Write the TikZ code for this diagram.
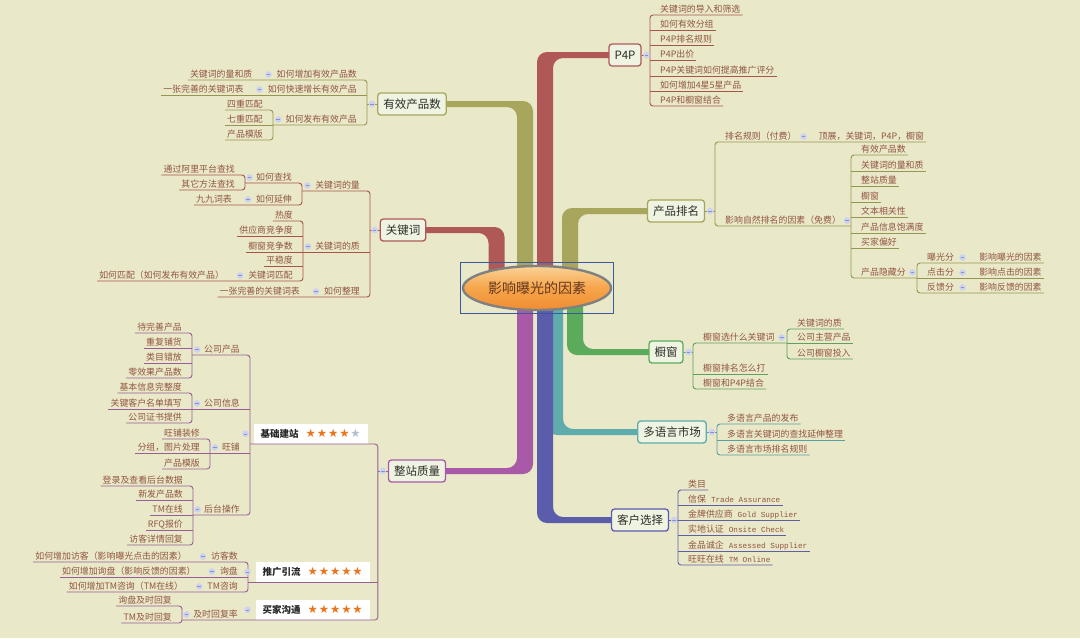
\documentclass[tikz,border=0pt]{standalone}
\usepackage{fontspec}
\setmainfont{Noto Sans CJK SC}
\newfontfamily\latmono{Liberation Mono}
\newfontfamily\starfont{DejaVu Sans}
\usepackage{tikz}
\usetikzlibrary{%
	calc,%
	positioning,%
	shapes.geometric,%
	fit,%
}
\definecolor{bgcol}{RGB}{233, 232, 200}
\definecolor{leaftext}{RGB}{145, 85, 65}
\definecolor{topicfill}{RGB}{238, 243, 226}
\definecolor{topictext}{RGB}{45, 45, 40}
\definecolor{credtr}{RGB}{176, 88, 88}
\definecolor{credln}{RGB}{165, 85, 75}
\definecolor{coltr}{RGB}{168, 166, 92}
\definecolor{colln}{RGB}{150, 150, 80}
\definecolor{cgrntr}{RGB}{92, 170, 92}
\definecolor{cgrnln}{RGB}{95, 160, 95}
\definecolor{ctealtr}{RGB}{95, 172, 172}
\definecolor{ctealln}{RGB}{90, 160, 160}
\definecolor{cblutr}{RGB}{92, 92, 172}
\definecolor{cbluln}{RGB}{95, 95, 165}
\definecolor{cmagtr}{RGB}{168, 90, 168}
\definecolor{cmagln}{RGB}{150, 95, 150}
\definecolor{cfoldfill}{RGB}{205, 210, 238}
\definecolor{cfoldline}{RGB}{135, 145, 205}
\definecolor{cstar}{RGB}{232, 118, 30}
\definecolor{cstargray}{RGB}{180, 190, 210}
\definecolor{cframe}{RGB}{58, 90, 160}
\definecolor{cctrtop}{RGB}{250, 210, 150}
\definecolor{cctrmid}{RGB}{246, 165, 75}
\definecolor{cctrbot}{RGB}{240, 140, 50}
\definecolor{cctrtext}{RGB}{100, 55, 30}
\newcommand{\leaffont}{\fontsize{8.9}{10}\selectfont}
\newcommand{\topicfont}{\fontsize{11.5}{13}\selectfont}
\newcommand{\monotxt}[1]{{\latmono\fontsize{7.7}{10}\selectfont #1}}
\newcommand{\stargap}{\kern0.9pt}
\newcommand{\starsfull}{{\starfont\fontsize{11.5}{12}\selectfont\color{cstar}★\stargap★\stargap★\stargap★\stargap★}}
\newcommand{\starsfour}{{\starfont\fontsize{11.5}{12}\selectfont\color{cstar}★\stargap★\stargap★\stargap★\stargap\color{cstargray}★}}
\pgfdeclarelayer{canvas}
\pgfdeclarelayer{trunks}
\pgfsetlayers{canvas,trunks,main}
\tikzset{
	topic/.style={%
			draw=#1,%
			line width=1.3pt,%
			rounded corners=3pt,%
			fill=topicfill,%
			text=topictext,%
			font=\topicfont,%
			inner xsep=5.5pt,%
			minimum height=22pt},%
	leafR/.style={%
			anchor=south west,%
			inner xsep=0pt,%
			inner ysep=1.2pt,%
			text depth=1.3pt,%
			font=\leaffont,%
			text=leaftext,%
			execute at begin node={\hspace*{10pt}},%
			execute at end node={\hspace*{2pt}}},%
	leafL/.style={%
			anchor=south east,%
			inner xsep=0pt,%
			inner ysep=1.2pt,%
			text depth=1.3pt,%
			font=\leaffont,%
			text=leaftext,%
			execute at begin node={\hspace*{2pt}},%
			execute at end node={\hspace*{10pt}}},%
	ln/.style={draw=#1, line width=0.9pt, rounded corners=3pt},%
	trunk/.style={fill=#1, rounded corners=10pt},%
	starbox/.style={%
			anchor=south east,%
			fill=white,%
			inner xsep=7pt,%
			inner ysep=0pt,%
			minimum height=20pt,%
			font=\fontsize{9.5}{11}\selectfont\bfseries,%
			text=black!85},%
	fold/.style={%
			circle,%
			fill=cfoldfill,%
			inner sep=0pt,%
			minimum size=6.6pt,%
			path picture={\draw[cfoldline, line width=0.6pt]
					([xshift=-1.8pt]path picture bounding box.center) --
					([xshift=1.8pt]path picture bounding box.center);}},%
}

\begin{document}
\begin{tikzpicture}[x=1pt, y=-1pt]
	\useasboundingbox (0,0) rectangle (1080,638);
	\begin{pgfonlayer}{canvas}
		\fill[bgcol] (0,0) rectangle (1080,638);
	\end{pgfonlayer}

	% centre
	\node[ellipse, draw=black!50, line width=2.4pt, top color=cctrtop, bottom color=cctrbot, middle color=cctrmid,
		minimum width=141pt, minimum height=44pt, font=\fontsize{14}{16}\selectfont, text=cctrtext] (ctr) at (537,288) {影响曝光的因素};
	\node[draw=cframe, line width=1.3pt, fit=(ctr), inner xsep=1pt, inner ysep=2.5pt] (ctrbox) {};

	% main topics
	\node[topic=credtr] (p4p) at (625,55) {P4P};
	\node[topic=coltr] (yxcp) at (412,104) {有效产品数};
	\node[topic=credtr] (gjc) at (403,230) {关键词};
	\node[topic=coltr] (cppm) at (676,211) {产品排名};
	\node[topic=cgrntr] (cc) at (666,352) {橱窗};
	\node[topic=ctealtr] (dyy) at (672,432) {多语言市场};
	\node[topic=cblutr] (khxz) at (640,520) {客户选择};
	\node[topic=cmagtr] (zzzl) at (417,471) {整站质量};

	\begin{pgfonlayer}{trunks}
		\coordinate (tkA) at (496.5,288);
		\coordinate (tkB) at (525,288);
		\coordinate (tkC) at (545,288);
		\coordinate (tkD) at (570,288);
		\coordinate (tkE) at (575,288);
		\coordinate (tkF) at (555,288);
		\fill[trunk=credtr] ($(tkA)+(8,0)$) |- ($(gjc.center)+(0,-3)$) -- ($(gjc.center)+(0,3)$) -| ($(tkA)+(-8,0)$) -- cycle;
		\fill[trunk=coltr] ($(tkB)+(8,0)$) |- ($(yxcp.center)+(0,-3)$) -- ($(yxcp.center)+(0,3)$) -| ($(tkB)+(-8,0)$) -- cycle;
		\fill[trunk=credtr] ($(tkC)+(-8,0)$) |- ($(p4p.center)+(0,-3)$) -- ($(p4p.center)+(0,3)$) -| ($(tkC)+(8,0)$) -- cycle;
		\fill[trunk=coltr] ($(tkD)+(-8,0)$) |- ($(cppm.center)+(0,-3)$) -- ($(cppm.center)+(0,3)$) -| ($(tkD)+(8,0)$) -- cycle;
		\fill[trunk=cmagtr] ($(tkB)+(8,0)$) |- ($(zzzl.center)+(0,3)$) -- ($(zzzl.center)+(0,-3)$) -| ($(tkB)+(-8,0)$) -- cycle;
		\fill[trunk=ctealtr] ($(tkF)+(-8,0)$) |- ($(dyy.center)+(0,3)$) -- ($(dyy.center)+(0,-3)$) -| ($(tkF)+(8,0)$) -- cycle;
		\fill[trunk=cblutr] ($(tkC)+(-8,0)$) |- ($(khxz.center)+(0,3)$) -- ($(khxz.center)+(0,-3)$) -| ($(tkC)+(8,0)$) -- cycle;
		\fill[trunk=cgrntr] ($(tkE)+(-8,0)$) |- ($(cc.center)+(0,3)$) -- ($(cc.center)+(0,-3)$) -| ($(tkE)+(8,0)$) -- cycle;
	\end{pgfonlayer}

	% P4P
	\node[leafR] (p4p1) at (650,15) {关键词的导入和筛选};
	\node[leafR] (p4p2) at (650,30) {如何有效分组};
	\node[leafR] (p4p3) at (650,45) {P4P排名规则};
	\node[leafR] (p4p4) at (650,60) {P4P出价};
	\node[leafR] (p4p5) at (650,76) {P4P关键词如何提高推广评分};
	\node[leafR] (p4p6) at (650,91) {如何增加4星5星产品};
	\node[leafR] (p4p7) at (650,106) {P4P和橱窗结合};
	\draw[ln=credln] (p4p1.south east) -- (p4p1.south west) -- (p4p7.south west) -- (p4p7.south east);
	\foreach \n in {2,...,6} \draw[ln=credln] (p4p\n.south west) -- (p4p\n.south east);
	\draw[ln=credln] (p4p.east) -- (p4p.east -| p4p1.south west);

	% 产品排名
	\node[leafR] (pm1) at (715,142) {排名规则（付费）};
	\node[leafR, right=10pt of pm1.south east, anchor=south west] (pm1a) {顶展，关键词，P4P，橱窗};
	\node[leafR] (pm2) at (715,226) {影响自然排名的因素（免费）};
	\node[leafR] (zr1) at (851,155) {有效产品数};
	\node[leafR] (zr2) at (851,171) {关键词的量和质};
	\node[leafR] (zr3) at (851,186) {整站质量};
	\node[leafR] (zr4) at (851,202) {橱窗};
	\node[leafR] (zr5) at (851,217) {文本相关性};
	\node[leafR] (zr6) at (851,233) {产品信息饱满度};
	\node[leafR] (zr7) at (851,248) {买家偏好};
	\node[leafR] (zr8) at (851,278) {产品隐藏分};
	\node[leafR] (yc1) at (917,263) {曝光分};
	\node[leafR, right=13pt of yc1.south east, anchor=south west] (yc1a) {影响曝光的因素};
	\node[leafR] (yc2) at (917,278) {点击分};
	\node[leafR, right=13pt of yc2.south east, anchor=south west] (yc2a) {影响点击的因素};
	\node[leafR] (yc3) at (917,293) {反馈分};
	\node[leafR, right=13pt of yc3.south east, anchor=south west] (yc3a) {影响反馈的因素};
	\draw[ln=colln] (cppm.east) -- (cppm.east -| pm1.south west);
	\draw[ln=colln] (pm1a.south east) -- (pm1.south west) -- (pm2.south west) -- (pm2.south east) -- (pm2.south -| zr1.south west);
	\draw[ln=colln] (zr1.south east) -- (zr1.south west) -- (zr8.south west) -- (zr8.south east) -- (zr8.south -| yc1.south west);
	\foreach \n in {2,...,7} \draw[ln=colln] (zr\n.south west) -- (zr\n.south east);
	\draw[ln=colln] (yc1a.south east) -- (yc1.south west) -- (yc3.south west) -- (yc3a.south east);
	\draw[ln=colln] (yc2.south west) -- (yc2a.south east);

	% 橱窗
	\node[leafR] (cc1) at (693,343) {橱窗选什么关键词};
	\node[leafR] (cc2) at (693,374) {橱窗排名怎么打};
	\node[leafR] (cc3) at (693,389) {橱窗和P4P结合};
	\node[leafR] (cc1a) at (787,329) {关键词的质};
	\node[leafR] (cc1b) at (787,343) {公司主营产品};
	\node[leafR] (cc1c) at (787,359) {公司橱窗投入};
	\draw[ln=cgrnln] (cc.east) -- (cc.east -| cc1.south west);
	\draw[ln=cgrnln] (cc1b.south west) -- (cc1.south west) -- (cc3.south west) -- (cc3.south east);
	\draw[ln=cgrnln] (cc2.south west) -- (cc2.south east);
	\draw[ln=cgrnln] (cc1a.south east) -- (cc1a.south west) -- (cc1c.south west) -- (cc1c.south east);
	\draw[ln=cgrnln] (cc1b.south west) -- (cc1b.south east);

	% 多语言市场
	\node[leafR] (dy1) at (717,424) {多语言产品的发布};
	\node[leafR] (dy2) at (717,440) {多语言关键词的查找延伸整理};
	\node[leafR] (dy3) at (717,455) {多语言市场排名规则};
	\draw[ln=ctealln] (dyy.east) -- (dyy.east -| dy1.south west);
	\draw[ln=ctealln] (dy1.south east) -- (dy1.south west) -- (dy3.south west) -- (dy3.south east);
	\draw[ln=ctealln] (dy2.south west) -- (dy2.south east);

	% 客户选择
	\node[leafR] (kh1) at (678,490) {类目};
	\node[leafR] (kh2) at (678,505) {信保\hspace{5pt}\monotxt{Trade Assurance}};
	\node[leafR] (kh3) at (678,520) {金牌供应商\hspace{5pt}\monotxt{Gold Supplier}};
	\node[leafR] (kh4) at (678,535) {实地认证\hspace{5pt}\monotxt{Onsite Check}};
	\node[leafR] (kh5) at (678,551) {金品诚企\hspace{5pt}\monotxt{Assessed Supplier}};
	\node[leafR] (kh6) at (678,565) {旺旺在线\hspace{5pt}\monotxt{TM Online}};
	\draw[ln=cbluln] (khxz.east) -- (khxz.east -| kh1.south west);
	\draw[ln=cbluln] (kh1.south east) -- (kh1.south west) -- (kh6.south west) -- (kh6.south east);
	\foreach \n in {2,...,5} \draw[ln=cbluln] (kh\n.south west) -- (kh\n.south east);

	% 有效产品数
	\node[leafL] (yx1) at (367,80) {如何增加有效产品数};
	\node[leafL, left=12pt of yx1.south west, anchor=south east] (yx1a) {关键词的量和质};
	\node[leafL] (yx2) at (367,95) {如何快速增长有效产品};
	\node[leafL, left=12pt of yx2.south west, anchor=south east] (yx2a) {一张完善的关键词表};
	\node[leafL] (yx3) at (367,125) {如何发布有效产品};
	\node[leafL] (yx3a) at (273,110) {四重匹配};
	\node[leafL] (yx3b) at (273,125) {七重匹配};
	\node[leafL] (yx3c) at (273,140) {产品模版};
	\draw[ln=colln] (yxcp.west) -- (yxcp.west -| yx1.south east);
	\draw[ln=colln] (yx1a.south west) -- (yx1.south east) -- (yx3.south east) -- (yx3b.south east);
	\draw[ln=colln] (yx2.south east) -- (yx2a.south west);
	\draw[ln=colln] (yx3a.south west) -- (yx3a.south east) -- (yx3c.south east) -- (yx3c.south west);
	\draw[ln=colln] (yx3b.south east) -- (yx3b.south west);

	% 关键词
	\node[leafL] (gj1) at (370,191) {关键词的量};
	\node[leafL] (gj2) at (370,252) {关键词的质};
	\node[leafL] (gj3) at (370,297) {如何整理};
	\node[leafL, left=12pt of gj3.south west, anchor=south east] (gj3a) {一张完善的关键词表};
	\node[leafL] (gj1a) at (302,183) {如何查找};
	\node[leafL] (gj1b) at (302,205) {如何延伸};
	\node[leafL, left=12pt of gj1b.south west, anchor=south east] (gj1ba) {九九词表};
	\node[leafL] (gj1a1) at (245,175) {通过阿里平台查找};
	\node[leafL] (gj1a2) at (245,190) {其它方法查找};
	\node[leafL] (gj2a) at (303,221) {热度};
	\node[leafL] (gj2b) at (303,236) {供应商竞争度};
	\node[leafL] (gj2c) at (303,252) {橱窗竞争数};
	\node[leafL] (gj2d) at (303,266) {平稳度};
	\node[leafL] (gj2e) at (303,281) {关键词匹配};
	\node[leafL, left=12pt of gj2e.south west, anchor=south east] (gj2ea) {如何匹配（如何发布有效产品）};
	\draw[ln=credln] (gjc.west) -- (gjc.west -| gj1.south east);
	\draw[ln=credln] (gj1.south -| gj1a.south east) -- (gj1.south east) -- (gj3.south east) -- (gj3a.south west);
	\draw[ln=credln] (gj2.south east) -- (gj2.south -| gj2a.south east);
	\draw[ln=credln] (gj1a.south -| gj1a1.south east) -- (gj1a.south east) -- (gj1b.south east) -- (gj1ba.south west);
	\draw[ln=credln] (gj1a1.south west) -- (gj1a1.south east) -- (gj1a2.south east) -- (gj1a2.south west);
	\draw[ln=credln] (gj2a.south west) -- (gj2a.south east) -- (gj2e.south east) -- (gj2ea.south west);
	\foreach \n in {b,c,d} \draw[ln=credln] (gj2\n.south east) -- (gj2\n.south west);

	% 整站质量
	\coordinate (zs) at ($(zzzl.west)+(-10,0)$);
	\node[starbox] (jc) at (368,444) {基础建站\hspace{7pt}\starsfour};
	\node[starbox] (tg) at (370,582) {推广引流\hspace{7pt}\starsfull};
	\node[starbox] (mj) at (370,620) {买家沟通\hspace{7pt}\starsfull};
	\node[leafL] (jc1) at (250,355) {公司产品};
	\node[leafL] (jc2) at (250,409) {公司信息};
	\node[leafL] (jc3) at (250,453) {旺铺};
	\node[leafL] (jc4) at (250,515) {后台操作};
	\node[leafL] (jc1a) at (192,333) {待完善产品};
	\node[leafL] (jc1b) at (192,348) {重复铺货};
	\node[leafL] (jc1c) at (192,363) {类目错放};
	\node[leafL] (jc1d) at (192,378) {零效果产品数};
	\node[leafL] (jc2a) at (192,393) {基本信息完整度};
	\node[leafL] (jc2b) at (192,409) {关键客户名单填写};
	\node[leafL] (jc2c) at (192,423) {公司证书提供};
	\node[leafL] (jc3a) at (210,439) {旺铺装修};
	\node[leafL] (jc3b) at (210,453) {分组，图片处理};
	\node[leafL] (jc3c) at (210,469) {产品模版};
	\node[leafL] (jc4a) at (193,486) {登录及查看后台数据};
	\node[leafL] (jc4b) at (193,500) {新发产品数};
	\node[leafL] (jc4c) at (193,515) {TM在线};
	\node[leafL] (jc4d) at (193,530) {RFQ报价};
	\node[leafL] (jc4e) at (193,545) {访客详情回复};
	\node[leafL] (tg1) at (248,562) {访客数};
	\node[leafL, left=12pt of tg1.south west, anchor=south east] (tg1a) {如何增加访客（影响曝光点击的因素）};
	\node[leafL] (tg2) at (248,577) {询盘};
	\node[leafL, left=12pt of tg2.south west, anchor=south east] (tg2a) {如何增加询盘（影响反馈的因素）};
	\node[leafL] (tg3) at (248,592) {TM咨询};
	\node[leafL, left=12pt of tg3.south west, anchor=south east] (tg3a) {如何增加TM咨询（TM在线）};
	\node[leafL] (mj1) at (248,620) {及时回复率};
	\node[leafL] (mj1a) at (182,606) {询盘及时回复};
	\node[leafL] (mj1b) at (182,623) {TM及时回复};
	\draw[ln=cmagln] (zzzl.west) -- (zs);
	\draw[ln=cmagln] (jc.south -| jc1.south east) -- (jc.south -| zs) -- (mj.south -| zs) -- (mj.south -| mj1a.south east);
	\draw[ln=cmagln] (tg.south -| zs) -- (tg.south -| tg1.south east);
	\draw[ln=cmagln] (jc1.south -| jc1a.south east) -- (jc1.south east) -- (jc4.south east) -- (jc4.south -| jc4a.south east);
	\draw[ln=cmagln] (jc2.south east) -- (jc2.south -| jc2a.south east);
	\draw[ln=cmagln] (jc3.south east) -- (jc3.south -| jc3a.south east);
	\draw[ln=cmagln] (jc1a.south west) -- (jc1a.south east) -- (jc1d.south east) -- (jc1d.south west);
	\draw[ln=cmagln] (jc2a.south west) -- (jc2a.south east) -- (jc2c.south east) -- (jc2c.south west);
	\draw[ln=cmagln] (jc3a.south west) -- (jc3a.south east) -- (jc3c.south east) -- (jc3c.south west);
	\draw[ln=cmagln] (jc4a.south west) -- (jc4a.south east) -- (jc4e.south east) -- (jc4e.south west);
	\foreach \n in {jc1b,jc1c,jc2b,jc3b,jc4b,jc4c,jc4d} \draw[ln=cmagln] (\n.south east) -- (\n.south west);
	\draw[ln=cmagln] (tg1a.south west) -- (tg1.south east) -- (tg3.south east) -- (tg3a.south west);
	\draw[ln=cmagln] (tg2.south east) -- (tg2a.south west);
	\draw[ln=cmagln] (mj1a.south west) -- (mj1a.south east) -- (mj1b.south east) -- (mj1b.south west);

	% fold marks
	\foreach \t in {p4p,cppm,cc,dyy,khxz}
	\node[fold] (fd-\t) at ($(\t.east)+(5,0)$) {};
	\foreach \t in {yxcp,gjc,zzzl}
	\node[fold] (fd-\t) at ($(\t.west)+(-5,0)$) {};
	\foreach \t in {jc,tg,mj}
	\node[fold] (fd-\t) at ($(\t.west)+(-8,0)$) {};
	\foreach \a/\b in {pm1/pm1a, yc1/yc1a, yc2/yc2a, yc3/yc3a, yx1a/yx1, yx2a/yx2, gj3a/gj3, gj1ba/gj1b, gj2ea/gj2e, tg1a/tg1, tg2a/tg2, tg3a/tg3}
	\node[fold] (fd-\b) at ($($(\a.south east)!.5!(\b.south west)$)+(0,-5.5)$) {};
	\foreach \a/\b in {pm2/zr1, zr8/yc1, cc1/cc1b}
	\node[fold] (fd-\a) at ($($(\a.south east)!.5!(\a.south -| \b.south west)$)+(0,-5.5)$) {};
	\foreach \a/\b in {yx3/yx3b, gj1/gj1a, gj2/gj2a, gj1a/gj1a1, jc1/jc1a, jc2/jc2a, jc3/jc3a, jc4/jc4a, mj1/mj1a}
	\node[fold] (fd-\a) at ($($(\a.south west)!.5!(\a.south -| \b.south east)$)+(0,-5.5)$) {};
\end{tikzpicture}
\end{document}
